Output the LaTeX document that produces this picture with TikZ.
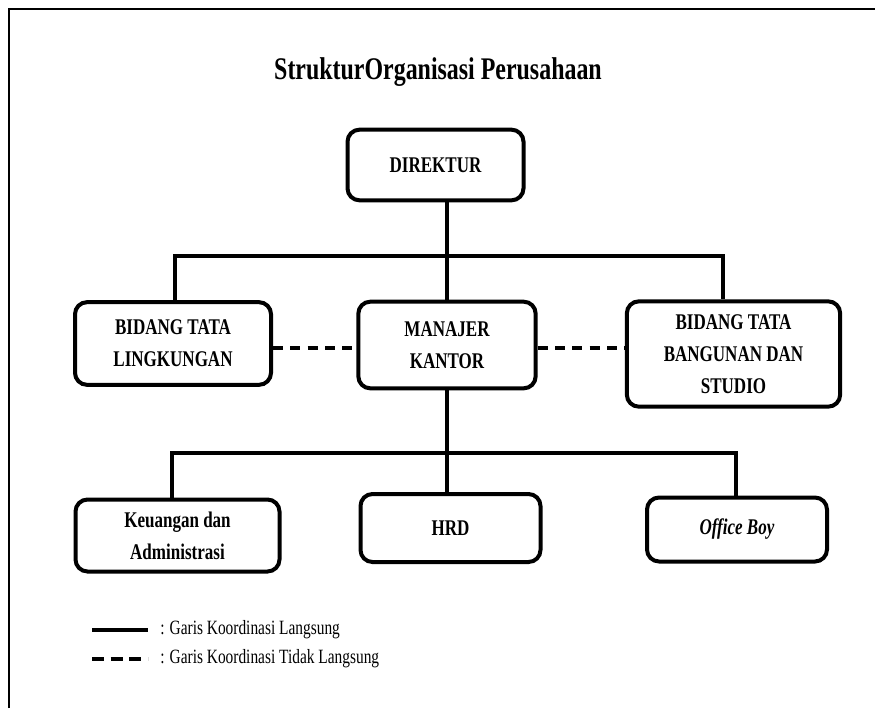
\documentclass[tikz,border=0pt]{standalone}
\usepackage{fontspec}
\setmainfont{Liberation Serif}[FakeStretch=0.76]
\begin{document}
\begin{tikzpicture}[x=0.75pt,y=-0.75pt]
	\tikzstyle{jabatan}=[draw,line width=3pt,rounded corners=9pt,align=center,inner sep=0pt,font=\fontsize{16.8}{24}\selectfont\bfseries];
	\tikzstyle{garis}=[line width=2.4pt];
	\tikzstyle{putus}=[line width=2.4pt,dash pattern=on 7.5pt off 5.5pt];
	\useasboundingbox (0,0) rectangle (875,708);
	\draw[line width=1.6pt] (9,708) -- (9,9) -- (875,9);
	\node[font=\fontsize{23.6}{28}\selectfont\bfseries] (judul) at (438,72) {StrukturOrganisasi Perusahaan};
	\node[jabatan,minimum width=132pt,minimum height=53pt] (direktur) at (435.5,165) {DIREKTUR};
	\node[jabatan,minimum width=147pt,minimum height=62pt] (lingkungan) at (173,343.5) {BIDANG TATA\\LINGKUNGAN};
	\node[jabatan,minimum width=133pt,minimum height=65pt] (manajer) at (447,345) {MANAJER\\KANTOR};
	\node[jabatan,minimum width=160pt,minimum height=79pt] (bangunan) at (733.5,354) {BIDANG TATA\\BANGUNAN DAN\\STUDIO};
	\node[jabatan,minimum width=153pt,minimum height=54pt] (keuangan) at (177.5,535.5) {Keuangan dan\\Administrasi};
	\node[jabatan,minimum width=135pt,minimum height=51pt] (hrd) at (450.5,528) {HRD};
	\node[jabatan,minimum width=135pt,minimum height=48pt] (office) at (737,529.5) {\itshape Office Boy};
	\coordinate (atas kiri) at (175,256);
	\coordinate (atas kanan) at (723,256);
	\coordinate (bawah kiri) at (172,453);
	\coordinate (bawah kanan) at (736,453);
	\draw[garis] (manajer.north |- direktur.south) -- (manajer.north);
	\draw[garis] (atas kiri |- lingkungan.north) -- (atas kiri) -- (atas kanan) -- (atas kanan |- bangunan.north);
	\draw[garis] (manajer.south) -- (manajer.south |- hrd.north);
	\draw[garis] (bawah kiri |- keuangan.north) -- (bawah kiri) -- (bawah kanan) -- (bawah kanan |- office.north);
	\draw[putus] (lingkungan.east |- 0,348) -- (manajer.west |- 0,348);
	\draw[putus] (manajer.east |- 0,348) -- (bangunan.west |- 0,348);
	\coordinate (legenda1) at (92,630);
	\coordinate (legenda2) at (92,659);
	\draw[line width=3.3pt] (legenda1) -- ++(56,0) coordinate (ujung1);
	\draw[putus,line width=2.6pt,dash pattern=on 9pt off 5pt] (legenda2) -- ++(56,0) coordinate (ujung2);
	\node[anchor=west,inner sep=0pt,font=\fontsize{15.2}{18}\selectfont] (ket1) at ([xshift=9]ujung1) {: Garis Koordinasi Langsung};
	\node[anchor=west,inner sep=0pt,font=\fontsize{15.2}{18}\selectfont] (ket2) at ([xshift=9]ujung2) {: Garis Koordinasi Tidak Langsung};
\end{tikzpicture}
\end{document}
